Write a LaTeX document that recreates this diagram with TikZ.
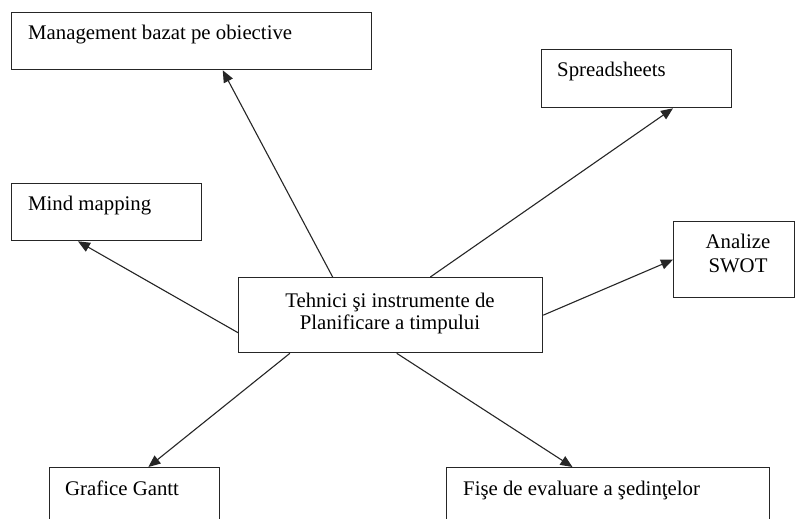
\documentclass[tikz,border=0pt]{standalone}
\usepackage{fontspec}
\setmainfont{Liberation Serif}
\usetikzlibrary{calc,arrows.meta}
\begin{document}
\begin{tikzpicture}[x=1pt,y=-1pt,
  box/.style={draw=black!85,line width=1.3pt,fill=white,inner sep=0pt,anchor=north west},
  lbl/.style={font=\fontsize{20.8}{23}\selectfont,inner sep=0pt},
  conn/.style={draw=black!85,line width=1.1pt,-{Triangle[length=12pt,width=10pt]}}]
\useasboundingbox (0,0) rectangle (795,519);
\clip (0,0) rectangle (795,519);
\fill[white] (0,0) rectangle (795,519);
% boxes
\node[box,minimum width=360pt,minimum height=57pt] (mbo) at (11,12) {};
\node[box,minimum width=190pt,minimum height=58pt] (spr) at (541,49) {};
\node[box,minimum width=121pt,minimum height=76pt] (swot) at (673,221) {};
\node[box,minimum width=190pt,minimum height=57pt] (mind) at (11,183) {};
\node[box,minimum width=304pt,minimum height=75pt] (c) at (238,277) {};
\node[box,minimum width=170pt,minimum height=70pt] (gantt) at (49,467) {};
\node[box,minimum width=323pt,minimum height=70pt] (fise) at (446,467) {};
% labels
\node[lbl,anchor=base west] (tmbo) at (28,40) {Management bazat pe obiective};
\node[lbl,anchor=base west] (tspr) at (557,77) {Spreadsheets};
\node[lbl,anchor=base] (tswot1) at (738,248) {Analize};
\node[lbl,anchor=base] (tswot2) at (738,272) {SWOT};
\node[lbl,anchor=base west] (tmind) at (28,210) {Mind mapping};
\node[lbl,anchor=base] (tc1) at (390,307) {Tehnici şi instrumente de};
\node[lbl,anchor=base] (tc2) at (390,329) {Planificare a timpului};
\node[lbl,anchor=base west] (tgantt) at (65,495) {Grafice Gantt};
\node[lbl,anchor=base west] (tfise) at (463,495) {Fişe de evaluare a şedinţelor};
% connectors
\draw[conn] ($(c.north west)!0.31!(c.north east)$) -- ($(mbo.south west)!0.586!(mbo.south east)$);
\draw[conn] ($(c.north west)!0.63!(c.north east)$) -- ($(spr.south west)!0.69!(spr.south east)$);
\draw[conn] (c.east) -- (swot.west);
\draw[conn] ($(c.north west)!0.73!(c.south west)$) -- ($(mind.south west)!0.35!(mind.south east)$);
\draw[conn] ($(c.south west)!0.17!(c.south east)$) -- ($(gantt.north west)!0.58!(gantt.north east)$);
\draw[conn] ($(c.south west)!0.52!(c.south east)$) -- ($(fise.north west)!0.39!(fise.north east)$);
\end{tikzpicture}
\end{document}
